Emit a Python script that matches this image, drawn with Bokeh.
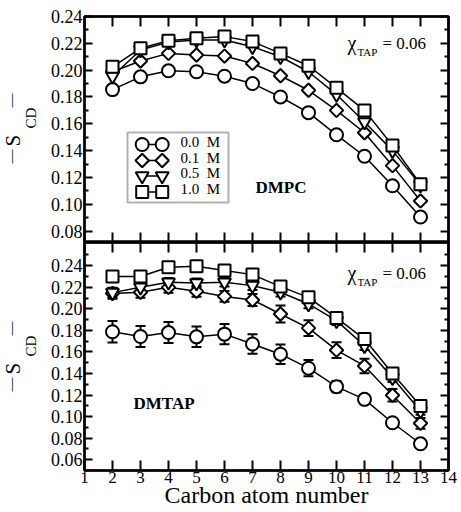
import numpy as np
from bokeh.plotting import figure
from bokeh.layouts import column, row
from bokeh.models import (Range1d, FixedTicker, SingleIntervalTicker, LinearAxis, Label,
                          Whisker, TeeHead, ColumnDataSource, BoxAnnotation,
                          PrintfTickFormatter, CustomJSTickFormatter)
from bokeh.embed import file_html
from bokeh.resources import INLINE

# Carbon positions along the acyl chain
carbon = [2, 3, 4, 5, 6, 7, 8, 9, 10, 11, 12, 13]
salt_labels = ["0.0\u00a0\u00a0M", "0.1\u00a0\u00a0M", "0.5\u00a0\u00a0M", "1.0\u00a0\u00a0M"]

# |S_CD| of DMPC chains
dmpc_00 = [0.1855, 0.1950, 0.1995, 0.1988, 0.1955, 0.1900, 0.1800, 0.1683, 0.1518, 0.1358, 0.1138, 0.0905]
dmpc_01 = [0.1988, 0.2068, 0.2125, 0.2113, 0.2105, 0.2050, 0.1958, 0.1850, 0.1700, 0.1533, 0.1288, 0.1025]
dmpc_05 = [0.1955, 0.2150, 0.2210, 0.2225, 0.2225, 0.2175, 0.2100, 0.1988, 0.1818, 0.1613, 0.1400, 0.1143]
dmpc_10 = [0.2025, 0.2163, 0.2220, 0.2238, 0.2250, 0.2213, 0.2125, 0.2033, 0.1868, 0.1700, 0.1438, 0.1150]

# |S_CD| of DMTAP chains and their error bars
dmtap_00 = [0.1787, 0.1743, 0.1780, 0.1740, 0.1765, 0.1673, 0.1579, 0.1449, 0.1278, 0.1160, 0.0943, 0.0748]
dmtap_01 = [0.2143, 0.2153, 0.2199, 0.2162, 0.2115, 0.2082, 0.1952, 0.1821, 0.1616, 0.1470, 0.1198, 0.0938]
dmtap_05 = [0.2150, 0.2200, 0.2246, 0.2240, 0.2246, 0.2215, 0.2153, 0.2045, 0.1890, 0.1657, 0.1361, 0.1052]
dmtap_10 = [0.2299, 0.2299, 0.2385, 0.2395, 0.2355, 0.2317, 0.2206, 0.2106, 0.1915, 0.1719, 0.1399, 0.1099]
dmtap_00_err = [0.0100, 0.0098, 0.0098, 0.0095, 0.0095, 0.0090, 0.0090, 0.0075, 0.0053, 0.0035, 0.0025, 0.0020]
dmtap_01_err = [0.0050, 0.0050, 0.0050, 0.0050, 0.0050, 0.0055, 0.0078, 0.0073, 0.0073, 0.0067, 0.0057, 0.0050]
dmtap_05_err = [0.0045, 0.0040, 0.0040, 0.0040, 0.0040, 0.0040, 0.0040, 0.0040, 0.0040, 0.0040, 0.0040, 0.0035]
dmtap_10_err = [0.0030, 0.0030, 0.0030, 0.0030, 0.0030, 0.0030, 0.0030, 0.0030, 0.0030, 0.0030, 0.0030, 0.0030]

top_major = [0.08, 0.10, 0.12, 0.14, 0.16, 0.18, 0.20, 0.22, 0.24]
top_minor = [0.09, 0.11, 0.13, 0.15, 0.17, 0.19, 0.21, 0.23]
bot_major = [0.06, 0.08, 0.10, 0.12, 0.14, 0.16, 0.18, 0.20, 0.22, 0.24]
bot_minor = [0.05, 0.07, 0.09, 0.11, 0.13, 0.15, 0.17, 0.19, 0.21, 0.23, 0.25]

FONT = "Liberation Serif"
# marker, size, angle for each salt concentration
styles = [("circle", 13, 0.0), ("square", 9.5, np.pi / 4),
          ("inverted_triangle", 13, 0.0), ("square", 12, 0.0)]

LEFT_W = 46          # strip holding the rotated y titles
MAIN_W = 461 - LEFT_W
PAD_L = 84 - LEFT_W  # room for the y tick labels
PAD_R = 13


def blank_strip(width, height):
    s = figure(width=width, height=height, x_range=Range1d(0, width), y_range=Range1d(0, height),
               output_backend="svg", toolbar_location=None,
               x_axis_location=None, y_axis_location=None,
               min_border=0, outline_line_color=None)
    s.grid.visible = False
    return s


def hide_labels(ax):
    # ticks only: no tick text on the mirrored axes
    ax.formatter = CustomJSTickFormatter(code="return ''")
    ax.major_label_text_font_size = "0px"
    ax.major_label_standoff = 0


def make_panel(height, y0, y1, major, minor, border_top, border_bottom, x_title=None):
    p = figure(width=MAIN_W, height=height, x_range=Range1d(1, 14), y_range=Range1d(y0, y1),
               output_backend="svg", toolbar_location=None,
               x_axis_location=None, y_axis_location=None,
               min_border_left=PAD_L, min_border_right=PAD_R,
               min_border_top=border_top, min_border_bottom=border_bottom)
    p.grid.visible = False
    p.outline_line_color = "black"
    p.outline_line_width = 2.5

    for side in ["left", "right"]:
        ax = LinearAxis(ticker=FixedTicker(ticks=major, minor_ticks=minor),
                        formatter=PrintfTickFormatter(format="%.2f"))
        ax.axis_line_color = "black"
        ax.axis_line_width = 2
        ax.major_tick_in, ax.major_tick_out = 8, 0
        ax.minor_tick_in, ax.minor_tick_out = 4, 0
        ax.major_tick_line_width = 2
        ax.minor_tick_line_width = 2
        ax.major_label_text_font = FONT
        ax.major_label_text_color = "black"
        if side == "left":
            ax.major_label_text_font_size = "18px"
            ax.major_label_standoff = 2
        else:
            hide_labels(ax)
        p.add_layout(ax, side)

    for side in ["above", "below"]:
        ax = LinearAxis(ticker=SingleIntervalTicker(interval=1, num_minor_ticks=0))
        ax.axis_line_color = "black"
        ax.axis_line_width = 2
        ax.major_tick_in, ax.major_tick_out = 10, 0
        ax.minor_tick_in, ax.minor_tick_out = 0, 0
        ax.major_tick_line_width = 2
        ax.major_label_text_font = FONT
        ax.major_label_text_color = "black"
        if side == "below" and x_title:
            ax.major_label_text_font_size = "17px"
            ax.major_label_standoff = 1
            ax.axis_label = x_title
            ax.axis_label_text_font = FONT
            ax.axis_label_text_font_size = "24px"
            ax.axis_label_text_font_style = "normal"
            ax.axis_label_text_color = "black"
            ax.axis_label_standoff = -4
        else:
            hide_labels(ax)
        p.add_layout(ax, side)
    return p


def draw_series(p, series, errors=None):
    for vals in series:
        p.line(carbon, vals, line_color="black", line_width=1.5)
    if errors is not None:
        for vals, err in zip(series, errors):
            lo = [v - e for v, e in zip(vals, err)]
            hi = [v + e for v, e in zip(vals, err)]
            src = ColumnDataSource(dict(x=carbon, lo=lo, hi=hi))
            p.add_layout(Whisker(source=src, base="x", lower="lo", upper="hi",
                                 dimension="height", line_width=2, line_color="black",
                                 upper_head=TeeHead(size=10, line_width=2),
                                 lower_head=TeeHead(size=10, line_width=2)))
    for vals, (marker, size, angle) in zip(series, styles):
        p.scatter(carbon, vals, marker=marker, size=size, angle=angle,
                  fill_color="white", line_color="black", line_width=2)


def chi_label(p, sy):
    p.add_layout(Label(x=263, y=sy - 1, x_units="screen", y_units="screen", text="χ",
                       text_font=FONT, text_font_size="20px", text_color="black"))
    p.add_layout(Label(x=273, y=sy - 5, x_units="screen", y_units="screen", text="TAP",
                       text_font=FONT, text_font_size="11px", text_color="black"))
    p.add_layout(Label(x=298, y=sy, x_units="screen", y_units="screen", text="= 0.06",
                       text_font=FONT, text_font_size="17px", text_color="black"))


def add_legend(p):
    # boxed key, laid out in pixels inside the frame
    p.extra_x_ranges["px"] = Range1d(0, MAIN_W - PAD_L - PAD_R)
    p.extra_y_ranges["px"] = Range1d(0, 242 - 16)
    p.add_layout(BoxAnnotation(left=43, right=144, bottom=40, top=110,
                               left_units="screen", right_units="screen",
                               bottom_units="screen", top_units="screen",
                               fill_color=None, line_color="black", line_width=2,
                               level="underlay"))
    rows = [98, 82, 66.5, 50.5]
    for (marker, size, angle), label, ry in zip(styles, salt_labels, rows):
        p.line([57.7, 77.7], [ry, ry], line_color="black", line_width=1.5,
               x_range_name="px", y_range_name="px")
        p.scatter([57.7, 77.7], [ry, ry], marker=marker, size=size, angle=angle,
                  fill_color="white", line_color="black", line_width=2,
                  x_range_name="px", y_range_name="px")
        p.add_layout(Label(x=96, y=ry - 5, x_units="screen", y_units="screen", text=label,
                           text_font=FONT, text_font_size="15px", text_color="black"))


# DMPC panel
top = make_panel(242, 0.0715, 0.24, top_major, top_minor, 16, 0)
draw_series(top, [dmpc_00, dmpc_01, dmpc_05, dmpc_10])
add_legend(top)
top.add_layout(Label(x=171, y=46, x_units="screen", y_units="screen", text="DMPC",
                     text_font=FONT, text_font_size="17px", text_font_style="bold",
                     text_color="black"))
chi_label(top, 190)

# DMTAP panel, carrying the shared x title
bot = make_panel(270, 0.05, 0.2615, bot_major, bot_minor, 0, 42, x_title="Carbon atom number")
draw_series(bot, [dmtap_00, dmtap_01, dmtap_05, dmtap_10],
            [dmtap_00_err, dmtap_01_err, dmtap_05_err, dmtap_10_err])
bot.add_layout(Label(x=49, y=57.5, x_units="screen", y_units="screen", text="DMTAP",
                     text_font=FONT, text_font_size="17px", text_font_style="bold",
                     text_color="black"))
chi_label(bot, 188)

# y title strip: "| S_CD |" for each panel (y measured up from the page bottom)
ystrip = blank_strip(LEFT_W, 512)
for shift in (0, 228):
    ystrip.add_layout(Label(x=24, y=512 - (146 + shift), text="S", angle=np.pi / 2,
                            text_font=FONT, text_font_size="21px", text_align="left",
                            text_color="black"))
    ystrip.add_layout(Label(x=38, y=512 - (128 + shift), text="CD", angle=np.pi / 2,
                            text_font=FONT, text_font_size="15px", text_align="left",
                            text_color="black"))
    for start in (163, 107):
        ystrip.add_layout(Label(x=18, y=512 - (start + shift), text="\u2014", angle=np.pi / 2,
                                text_font=FONT, text_font_size="14px", text_align="left",
                                text_color="black"))

layout = row(ystrip, column(top, bot, spacing=0), spacing=0)
open("out.html", "w").write(file_html(layout, INLINE))
